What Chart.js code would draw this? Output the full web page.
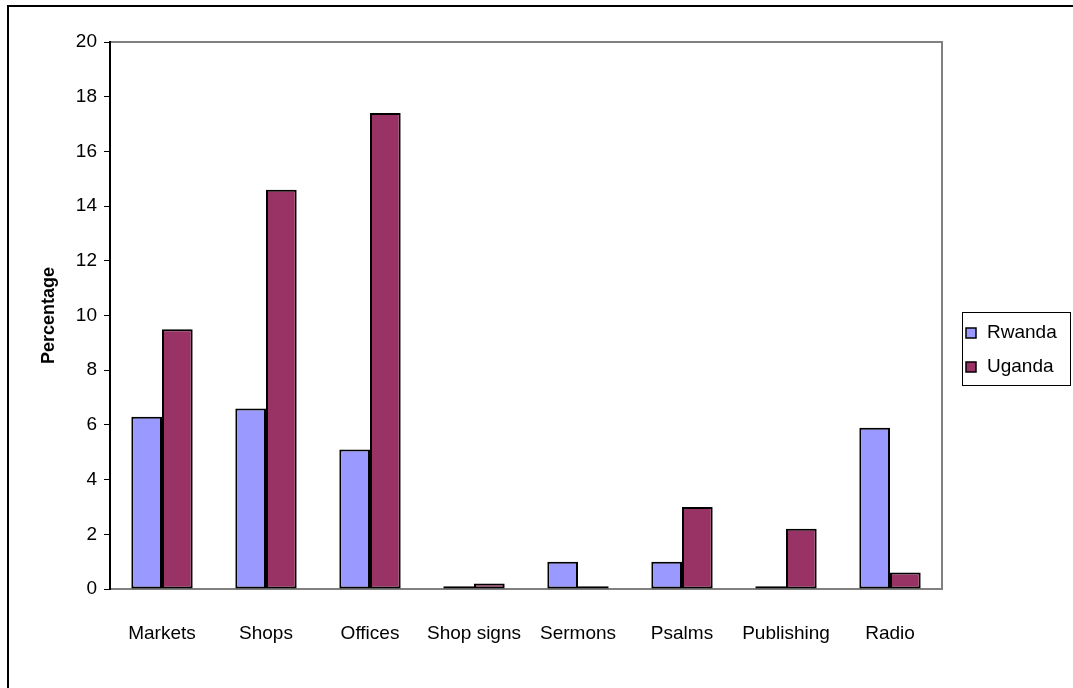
<!DOCTYPE html>
<html lang="en">
<head>
	<meta charset="UTF-8" />
	<title>Percentage by domain</title>
	<script src="https://cdn.jsdelivr.net/npm/chart.js@4/dist/chart.umd.min.js"></script>
	<style>
		body { margin: 0; background: #fff; }
		.container { width: 1073px; height: 688px; }
	</style>
</head>
<body>
	<div class="container">
		<canvas id="myChart" width="1073" height="688"></canvas>
	</div>

	<script>
		const categories = ['Markets', 'Shops', 'Offices', 'Shop signs', 'Sermons', 'Psalms', 'Publishing', 'Radio'];
		const rwanda = [6.3, 6.6, 5.1, 0.1, 1.0, 1.0, 0.1, 5.9];
		const uganda = [9.5, 14.6, 17.4, 0.2, 0.1, 3.0, 2.2, 0.6];
		const yTicks = [0, 2, 4, 6, 8, 10, 12, 14, 16, 18, 20];

		const fontFamily = '"Liberation Sans", Arial, sans-serif';

		// frame, plot border and the boxed legend on the right
		const extras = {
			id: 'extras',
			beforeDraw(chart) {
				const c = chart.ctx;
				const a = chart.chartArea;
				c.save();
				c.fillStyle = '#fff';
				c.fillRect(0, 0, chart.width, chart.height);
				c.strokeStyle = '#000';
				c.lineWidth = 2;
				c.strokeRect(8, 6, chart.width + 20, chart.height + 20);
				c.strokeStyle = '#808080';
				c.lineWidth = 2;
				c.beginPath();
				c.moveTo(a.left, a.top);
				c.lineTo(a.right, a.top);
				c.lineTo(a.right, a.bottom);
				c.stroke();
				c.restore();
			},
			afterDraw(chart) {
				const c = chart.ctx;
				c.save();
				c.strokeStyle = '#000';
				c.lineWidth = 1;
				c.strokeRect(962.5, 312.5, 108, 73);
				c.font = '19px ' + fontFamily;
				c.textBaseline = 'middle';
				chart.data.datasets.forEach((ds, i) => {
					const y = 333 + i * 34;
					c.fillStyle = ds.backgroundColor;
					c.fillRect(966, y - 5, 10, 10);
					c.strokeStyle = '#000';
					c.lineWidth = 1.5;
					c.strokeRect(966, y - 5, 10, 10);
					c.fillStyle = '#000';
					c.fillText(ds.label, 987, y);
				});
				c.restore();
			}
		};

		const ctx = document.getElementById('myChart').getContext('2d');
		const myChart = new Chart(ctx, {
			type: 'bar',
			data: {
				labels: categories,
				datasets: [{
						label: 'Rwanda',
						data: rwanda,
						backgroundColor: '#9999FF',
						borderColor: '#000',
						borderWidth: 2,
						borderSkipped: false
					},
					{
						label: 'Uganda',
						data: uganda,
						backgroundColor: '#993366',
						borderColor: '#000',
						borderWidth: 2,
						borderSkipped: false
					}
				]
			},
			options: {
				responsive: false,
				animation: false,
				layout: {
					padding: { left: 0, top: 42, right: 131, bottom: 0 }
				},
				datasets: {
					bar: { categoryPercentage: 0.59, barPercentage: 1 }
				},
				plugins: {
					legend: { display: false },
					tooltip: { enabled: false }
				},
				scales: {
					x: {
						grid: { display: false, drawTicks: false },
						border: { color: '#808080', width: 2 },
						ticks: {
							color: '#000',
							padding: 33,
							maxRotation: 0,
							font: { family: fontFamily, size: 19 }
						},
						afterFit(scale) { scale.height = 99; }
					},
					y: {
						min: 0,
						max: 20,
						afterBuildTicks(scale) {
							scale.ticks = yTicks.map(v => ({ value: v }));
						},
						grid: {
							drawOnChartArea: false,
							drawTicks: true,
							tickLength: 6,
							color: '#000'
						},
						border: { color: '#000', width: 2 },
						ticks: {
							color: '#000',
							padding: 7,
							font: { family: fontFamily, size: 19 }
						},
						title: {
							display: true,
							text: 'Percentage',
							color: '#000',
							padding: { top: 38 },
							font: { family: fontFamily, size: 18, weight: 'bold' }
						},
						afterFit(scale) { scale.width = 110; }
					}
				}
			},
			plugins: [extras]
		});
	</script>
</body>
</html>
